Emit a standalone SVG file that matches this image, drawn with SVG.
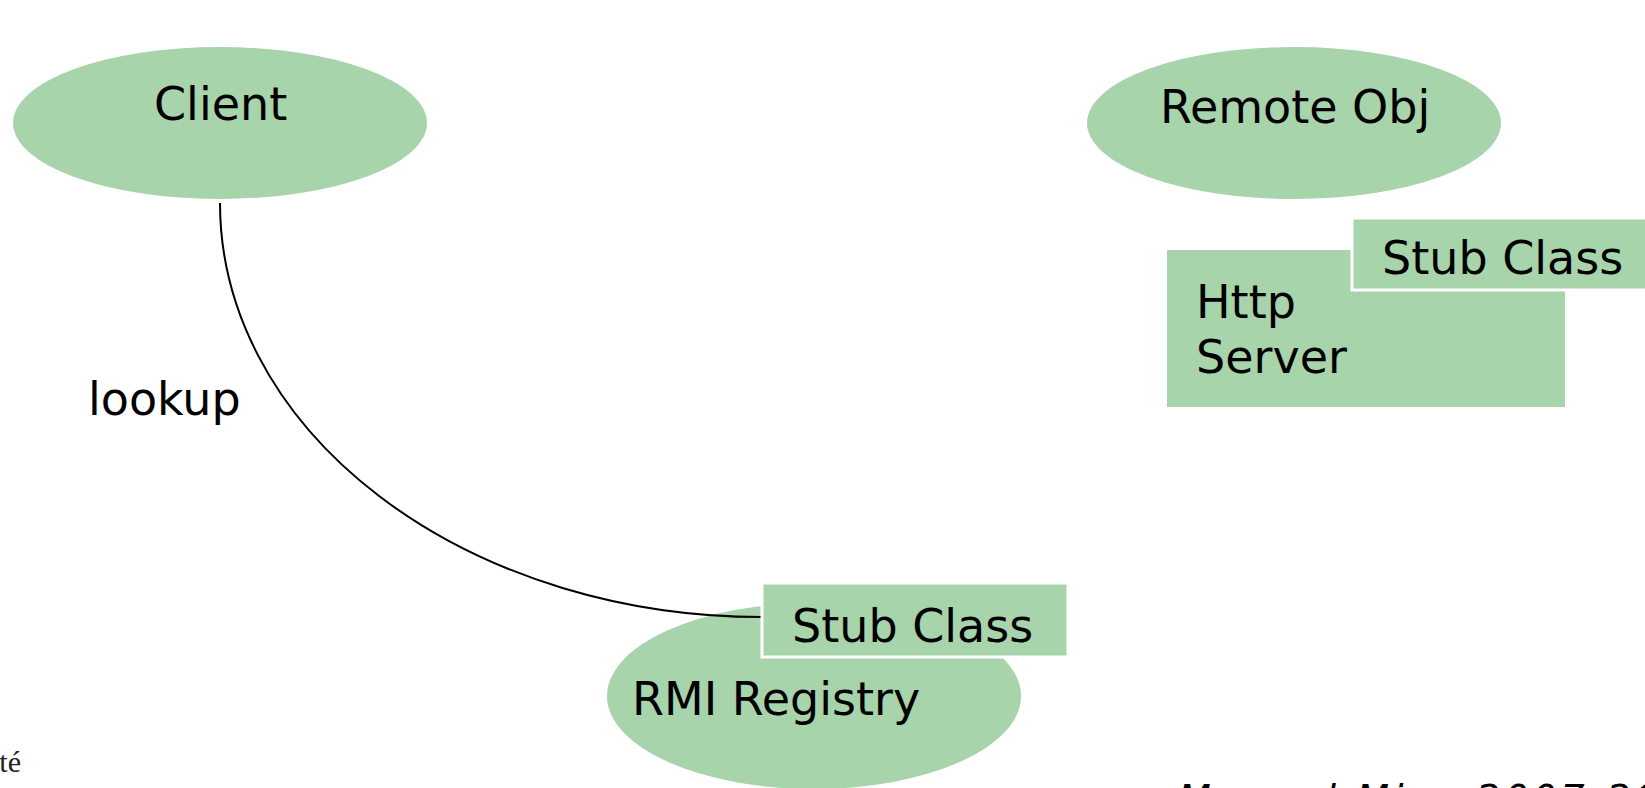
<svg xmlns="http://www.w3.org/2000/svg" width="1645" height="788" viewBox="0 0 1645 788">
  <style>
    .shape { fill: #a7d4aa; }
    .tab { fill: #a7d4aa; stroke: #ffffff; stroke-width: 3; }
    .label { font-family: "DejaVu Sans", "Liberation Sans", sans-serif; font-size: 46px; fill: #000000; }
    .edge { fill: none; stroke: #000000; stroke-width: 2; }
    .foot { font-family: "DejaVu Sans", "Liberation Sans", sans-serif; font-size: 38px; font-style: italic; fill: #000000; letter-spacing: 4px; }
    .serif { font-family: "Liberation Serif", serif; font-size: 30px; fill: #222222; }
  </style>
  <rect x="0" y="0" width="1645" height="788" fill="#ffffff"/>

  <g id="client">
    <ellipse class="shape" cx="220" cy="123" rx="207" ry="76"/>
    <text class="label" x="154" y="120">Client</text>
  </g>

  <g id="remote-obj">
    <ellipse class="shape" cx="1294" cy="123" rx="207" ry="76"/>
    <text class="label" x="1160" y="123">Remote Obj</text>
  </g>

  <g id="http-server">
    <rect class="shape" x="1167" y="250" width="398" height="157"/>
    <text class="label" x="1196" y="318">Http</text>
    <text class="label" x="1196" y="373">Server</text>
  </g>

  <g id="rmi-registry">
    <ellipse class="shape" cx="814" cy="696" rx="207" ry="93"/>
    <text class="label" x="632" y="715">RMI Registry</text>
  </g>

  <g id="connectors">
    <path class="edge" d="M220,203 A542,414 0 0 0 762,617"/>
    <text class="label" x="88" y="415">lookup</text>
  </g>

  <g id="server-stub">
    <rect class="tab" x="1352" y="218" width="300" height="72"/>
    <text class="label" x="1382" y="274">Stub Class</text>
  </g>

  <g id="registry-stub">
    <rect class="tab" x="762" y="583" width="306" height="74"/>
    <text class="label" x="792" y="642">Stub Class</text>
  </g>

  <g id="footer">
    <text class="serif" x="21" y="772" text-anchor="end">té</text>
    <text class="foot" x="1178" y="811">Manuel Mira</text>
    <text class="foot" x="1476" y="811">2007-2008</text>
  </g>
</svg>
